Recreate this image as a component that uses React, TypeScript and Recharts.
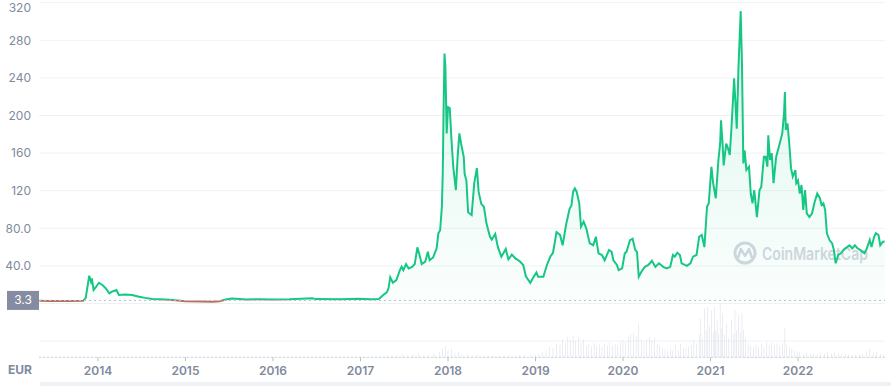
import React from "react";
import {
  ComposedChart,
  Area,
  Bar,
  XAxis,
  YAxis,
  CartesianGrid,
  ReferenceLine,
} from "recharts";

// Litecoin price in EUR (decimal year, price)
const priceYears = [
  2013.33, 2013.45, 2013.57, 2013.68, 2013.83, 2013.86, 2013.9, 2013.92, 2013.93, 2013.95,
  2013.98, 2014.01, 2014.05, 2014.09, 2014.13, 2014.16, 2014.21, 2014.24, 2014.31, 2014.39,
  2014.47, 2014.54, 2014.62, 2014.77, 2014.88, 2015.0, 2015.17, 2015.31, 2015.39, 2015.46,
  2015.53, 2015.62, 2015.69, 2015.85, 2016.0, 2016.19, 2016.45, 2016.49, 2016.77, 2016.98,
  2017.11, 2017.21, 2017.26, 2017.3, 2017.32, 2017.34, 2017.37, 2017.41, 2017.45, 2017.47,
  2017.49, 2017.52, 2017.55, 2017.59, 2017.62, 2017.65, 2017.68, 2017.7, 2017.74, 2017.77,
  2017.79, 2017.83, 2017.87, 2017.89, 2017.91, 2017.93, 2017.94, 2017.95, 2017.96, 2017.97,
  2017.985, 2018.0, 2018.02, 2018.04, 2018.06, 2018.09, 2018.11, 2018.13, 2018.15, 2018.18,
  2018.19, 2018.21, 2018.23, 2018.27, 2018.3, 2018.33, 2018.35, 2018.38, 2018.41, 2018.44,
  2018.48, 2018.5, 2018.54, 2018.57, 2018.61, 2018.66, 2018.69, 2018.73, 2018.77, 2018.82,
  2018.86, 2018.89, 2018.94, 2018.98, 2019.01, 2019.03, 2019.09, 2019.13, 2019.17, 2019.2,
  2019.24, 2019.28, 2019.31, 2019.35, 2019.39, 2019.41, 2019.43, 2019.45, 2019.47, 2019.5,
  2019.52, 2019.55, 2019.58, 2019.62, 2019.66, 2019.69, 2019.72, 2019.76, 2019.79, 2019.84,
  2019.87, 2019.89, 2019.93, 2019.95, 2019.99, 2020.02, 2020.04, 2020.08, 2020.11, 2020.14,
  2020.16, 2020.18, 2020.21, 2020.25, 2020.29, 2020.33, 2020.37, 2020.41, 2020.46, 2020.5,
  2020.54, 2020.57, 2020.59, 2020.62, 2020.65, 2020.67, 2020.73, 2020.77, 2020.8, 2020.84,
  2020.87, 2020.9, 2020.93, 2020.96, 2020.98, 2021.01, 2021.03, 2021.06, 2021.09, 2021.11,
  2021.12, 2021.14, 2021.15, 2021.18, 2021.2, 2021.22, 2021.24, 2021.27, 2021.3, 2021.32,
  2021.345, 2021.36, 2021.375, 2021.39, 2021.41, 2021.44, 2021.46, 2021.48, 2021.5, 2021.53,
  2021.56, 2021.58, 2021.61, 2021.63, 2021.65, 2021.66, 2021.68, 2021.7, 2021.72, 2021.75,
  2021.79, 2021.82, 2021.84, 2021.85, 2021.86, 2021.88, 2021.9, 2021.92, 2021.94, 2021.97,
  2021.98, 2022.0, 2022.02, 2022.04, 2022.06, 2022.08, 2022.1, 2022.13, 2022.16, 2022.19,
  2022.22, 2022.25, 2022.27, 2022.29, 2022.31, 2022.33, 2022.36, 2022.39, 2022.41, 2022.43,
  2022.46, 2022.49, 2022.52, 2022.56, 2022.59, 2022.62, 2022.65, 2022.68, 2022.71, 2022.76,
  2022.78, 2022.82, 2022.84, 2022.87, 2022.89, 2022.92, 2022.94, 2022.97, 2022.99,
];

const priceValues = [
  2.9, 2.7, 2.8, 2.6, 2.9, 6, 29.6, 23.2, 26.8, 14.4,
  17.9, 22.1, 19.7, 16.1, 10.8, 12.6, 14.4, 9.0, 9.5, 9.0,
  7.2, 6.0, 4.8, 4.3, 3.6, 2.3, 2.1, 2.0, 2.4, 4.2,
  5.4, 4.8, 4.4, 4.5, 4.4, 4.6, 5.6, 4.7, 4.5, 5.0,
  4.6, 4.8, 9.0, 11.9, 16.2, 27.9, 22.1, 25, 35.6, 39.2,
  35.6, 42, 37.4, 39, 42, 59.8, 49.8, 42, 44.5, 55,
  46, 49, 58.7, 74.7, 78, 103, 138, 209, 266, 252,
  181, 209, 208, 174, 145.5, 120.7, 156, 181, 170, 156,
  138, 131, 97, 94, 128, 144, 119, 106, 103, 85,
  71, 68, 74, 60, 49.8, 58, 47, 52, 48, 45,
  41, 29, 22, 28.5, 33, 28.5, 28.5, 41, 50, 54,
  76, 73, 62, 84, 101, 104, 119, 122.5, 119, 106.6,
  81.7, 87, 80, 64, 62, 71, 53.4, 51.6, 46, 57,
  55, 46, 41, 35.6, 37.4, 53.4, 55, 67.5, 69, 57,
  55, 28.5, 33.8, 39, 41, 45.5, 39, 42.8, 39, 37.4,
  39, 51.6, 49.8, 54, 51.6, 42.8, 40, 42.8, 49.8, 51.6,
  71, 72.9, 60, 103, 106.6, 145.5, 128, 112, 152.7, 170,
  195, 166.8, 147, 170, 165, 158, 188, 239.6, 186, 252,
  311, 252, 149, 163, 142, 145.5, 117, 106.6, 120.7, 92,
  120.7, 124, 156, 156, 145.5, 179, 152.7, 159.8, 128, 156,
  170, 181, 202, 225, 184.6, 191.7, 170, 144, 135, 142,
  128, 131, 117, 126, 99.5, 120.7, 96, 92, 96, 108,
  117, 112, 104.8, 106.6, 99.5, 74.7, 67.5, 64, 57, 42.8,
  51.6, 53.4, 57, 60, 62, 58.7, 62, 58.7, 57, 53.4,
  57, 67.5, 60, 71, 74.7, 72.9, 62, 65.8, 66,
];

// Trading volume in billion EUR
const volumeYears = [
  2017.3, 2017.36, 2017.42, 2017.48, 2017.54, 2017.6, 2017.66, 2017.72, 2017.78, 2017.84,
  2017.9, 2017.94, 2017.97, 2018.0, 2018.04, 2018.08, 2018.12, 2018.16, 2018.22, 2018.28,
  2018.34, 2018.4, 2018.46, 2018.52, 2018.58, 2018.64, 2018.7, 2018.76, 2018.82, 2018.88,
  2018.94, 2019.0, 2019.04, 2019.08, 2019.12, 2019.16, 2019.2, 2019.24, 2019.28, 2019.31,
  2019.34, 2019.37, 2019.4, 2019.43, 2019.46, 2019.49, 2019.52, 2019.55, 2019.58, 2019.61,
  2019.64, 2019.67, 2019.7, 2019.73, 2019.76, 2019.79, 2019.82, 2019.85, 2019.88, 2019.91,
  2019.94, 2019.97, 2020.0, 2020.03, 2020.06, 2020.09, 2020.12, 2020.15, 2020.18, 2020.21,
  2020.24, 2020.27, 2020.3, 2020.33, 2020.36, 2020.39, 2020.42, 2020.45, 2020.48, 2020.51,
  2020.54, 2020.57, 2020.6, 2020.63, 2020.66, 2020.69, 2020.72, 2020.75, 2020.78, 2020.81,
  2020.84, 2020.87, 2020.89, 2020.91, 2020.93, 2020.95, 2020.97, 2020.99, 2021.01, 2021.03,
  2021.045, 2021.06, 2021.075, 2021.09, 2021.11, 2021.13, 2021.14, 2021.16, 2021.185, 2021.21,
  2021.24, 2021.26, 2021.28, 2021.3, 2021.32, 2021.34, 2021.36, 2021.375, 2021.4, 2021.43,
  2021.46, 2021.49, 2021.52, 2021.55, 2021.58, 2021.61, 2021.64, 2021.67, 2021.7, 2021.73,
  2021.76, 2021.79, 2021.82, 2021.85, 2021.87, 2021.9, 2021.93, 2021.96, 2021.99, 2022.02,
  2022.06, 2022.1, 2022.14, 2022.18, 2022.22, 2022.26, 2022.3, 2022.34, 2022.38, 2022.42,
  2022.46, 2022.5, 2022.54, 2022.58, 2022.62, 2022.66, 2022.7, 2022.74, 2022.78, 2022.82,
  2022.86, 2022.9, 2022.94, 2022.98,
];

const volumeValues = [
  0.3, 0.6, 0.4, 0.8, 0.5, 0.7, 1.2, 0.5, 0.8, 1.0,
  1.4, 2.4, 3.0, 1.8, 2.2, 1.2, 1.6, 0.7, 0.9, 0.5,
  0.6, 0.4, 0.4, 0.3, 0.4, 0.3, 0.4, 0.4, 0.5, 0.6,
  0.5, 0.7, 1.0, 1.4, 1.8, 2.6, 2.4, 3.6, 3.2, 4.6,
  3.8, 5.4, 4.5, 5.7, 4.2, 5.2, 3.8, 4.6, 3.0, 3.6,
  2.9, 3.8, 2.8, 3.4, 2.7, 3.6, 3.0, 3.9, 3.2, 3.5,
  3.1, 4.0, 4.5, 4.0, 5.4, 6.0, 6.4, 5.5, 8.8, 4.6,
  4.0, 4.8, 5.2, 4.4, 5.0, 3.6, 3.0, 2.4, 2.0, 1.6,
  2.2, 1.8, 3.2, 2.0, 3.6, 2.4, 2.2, 2.8, 3.2, 4.4,
  3.6, 6.0, 10.0, 4.8, 12.7, 7.0, 13.1, 8.0, 12.3, 6.5,
  13.1, 7.0, 9.7, 6.2, 14.0, 7.5, 11.4, 6.0, 8.8, 5.0,
  9.7, 6.0, 12.3, 7.0, 11.0, 6.5, 11.4, 7.1, 5.0, 3.6,
  3.0, 2.6, 3.4, 2.8, 3.6, 2.6, 3.9, 3.2, 3.8, 3.4,
  3.6, 3.0, 3.8, 7.5, 3.4, 2.6, 2.2, 1.8, 1.6, 1.2,
  1.0, 1.2, 0.9, 1.0, 0.8, 1.1, 1.0, 1.3, 1.0, 1.2,
  0.9, 0.8, 0.9, 0.8, 0.7, 0.8, 0.7, 0.9, 1.6, 2.1,
  1.2, 1.5, 0.9, 0.8,
];

const yearTicks = [2014, 2015, 2016, 2017, 2018, 2019, 2020, 2021, 2022];
const priceTicks = [-40, 0, 40, 80, 120, 160, 200, 240, 280, 320];
const openPrice = 3.3;

const GREEN = "#16c784";
const RED = "#b8715c";
const GRAY = "#858ca2";

// merge both series into one table keyed by time
const rows: { t: number; price?: number; vol?: number }[] = [];
priceYears.forEach((t, i) => rows.push({ t, price: priceValues[i] }));
volumeYears.forEach((t, i) => rows.push({ t, vol: volumeValues[i] }));
rows.sort((a, b) => a.t - b.t);

const maxP = Math.max(...priceValues);
const minP = Math.min(...priceValues);
const splitOffset = (maxP - openPrice) / (maxP - minP);

const formatPrice = (v: number) => {
  if (v <= 0) return "";
  if (v < 100) return v.toFixed(1);
  return String(v);
};

const PriceTag = (props: any) => {
  const vb = props.viewBox || {};
  return (
    <g>
      <rect x={vb.x - 32} y={vb.y - 9.5} width={32} height={19} fill={GRAY} />
      <text
        x={vb.x - 16}
        y={vb.y + 4}
        textAnchor="middle"
        fill="#ffffff"
        fontSize={12}
      >
        {openPrice}
      </text>
    </g>
  );
};

const Watermark = () => (
  <svg
    width={891}
    height={386}
    style={{ position: "absolute", left: 0, top: 0 }}
  >
    <circle cx={745} cy={253} r={10} fill="none" stroke="#d3d7e0" strokeWidth={3} />
    <path
      d="M738 258 L741 249 L745 256 L749 249 L752 258"
      fill="none"
      stroke="#d3d7e0"
      strokeWidth={2.5}
      strokeLinejoin="round"
    />
    <text
      x={762}
      y={260}
      fontSize={17}
      fontWeight={600}
      fill="#d3d7e0"
      textLength={106}
      lengthAdjust="spacingAndGlyphs"
    >
      CoinMarketCap
    </text>
  </svg>
);

export default function App() {
  return (
    <div
      style={{
        position: "absolute",
        left: 0,
        top: 0,
        width: 891,
        height: 386,
        background: "#ffffff",
        fontFamily: "Inter, 'Noto Sans', sans-serif",
        overflow: "hidden",
      }}
    >
      <Watermark />
      <div
        style={{
          position: "absolute",
          left: 40,
          top: 382,
          width: 851,
          height: 4,
          background: "#eef1f6",
        }}
      />
      <div
        style={{
          position: "absolute",
          left: 8,
          top: 362,
          fontSize: 12,
          fontWeight: 700,
          color: "#808a9d",
        }}
      >
        EUR
      </div>
      <div style={{ position: "absolute", left: 0, top: 0 }}>
        <ComposedChart
          width={891}
          height={386}
          data={rows}
          margin={{ top: 2.7, right: 6, bottom: 0, left: 0 }}
        >
          <defs>
            <linearGradient id="priceStroke" x1="0" y1="0" x2="0" y2="1">
              <stop offset={splitOffset} stopColor={GREEN} />
              <stop offset={splitOffset} stopColor={RED} />
            </linearGradient>
            <linearGradient id="priceFill" x1="0" y1="0" x2="0" y2="1">
              <stop offset="0%" stopColor={GREEN} stopOpacity={0.25} />
              <stop offset="100%" stopColor={GREEN} stopOpacity={0.03} />
            </linearGradient>
          </defs>
          <CartesianGrid
            yAxisId="p"
            horizontal
            vertical={false}
            stroke="#eff2f5"
          />
          <XAxis
            dataKey="t"
            type="number"
            scale="linear"
            domain={[2013.326, 2022.994]}
            ticks={yearTicks}
            allowDataOverflow
            height={28.7}
            tickSize={4}
            tickMargin={5}
            tickLine={{ stroke: "#b8bfcc" }}
            axisLine={{ stroke: "#cfd4de", strokeDasharray: "2 2" }}
            tick={{ fontSize: 12, fontWeight: 600, fill: "#808a9d" }}
          />
          <YAxis
            yAxisId="p"
            type="number"
            domain={[-57.2, 320]}
            ticks={priceTicks}
            allowDataOverflow
            width={39}
            axisLine={false}
            tickLine={false}
            tickSize={0}
            tickMargin={8}
            tickFormatter={formatPrice}
            tick={{ fontSize: 12, fill: "#808a9d" }}
          />
          <YAxis yAxisId="v" hide domain={[0, 92]} allowDataOverflow />
          <Bar
            yAxisId="v"
            dataKey="vol"
            barSize={2}
            fill="#ccd2e0"
            isAnimationActive={false}
          />
          <ReferenceLine
            yAxisId="p"
            y={openPrice}
            stroke="#b9c0cf"
            strokeDasharray="2 3"
            label={<PriceTag />}
          />
          <Area
            yAxisId="p"
            type="linear"
            dataKey="price"
            baseValue={openPrice}
            connectNulls
            stroke="url(#priceStroke)"
            strokeWidth={2}
            fill="url(#priceFill)"
            dot={false}
            activeDot={false}
            isAnimationActive={false}
          />
        </ComposedChart>
      </div>
    </div>
  );
}
